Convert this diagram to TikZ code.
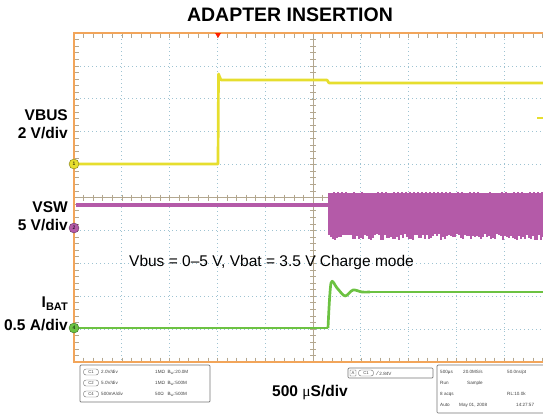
\documentclass[tikz,border=0pt]{standalone}
\usepackage{fontspec}
\setmainfont{Liberation Sans}
\newfontfamily\greekfont{Liberation Serif}
\definecolor{scopeorange}{HTML}{F2A55A}
\definecolor{vbusyellow}{HTML}{E6DE2E}
\definecolor{vswpurple}{HTML}{B45AA8}
\definecolor{ibatgreen}{HTML}{6CC242}
\definecolor{griddot}{HTML}{9EC3D2}
\definecolor{axisgray}{HTML}{B3A78F}
\begin{document}
\begin{tikzpicture}[x=1pt,y=-1pt,
     lbl/.style={font=\bfseries\fontsize{15.5}{16}\selectfont,anchor=east,inner sep=0pt},
     trace/.style={line width=2.7pt,line join=round},
     chmark/.style={circle,draw=#1!55!black,fill=#1,minimum size=10pt,inner sep=0pt,font=\fontsize{5}{5}\selectfont},
     info/.style={font=\fontsize{4.6}{5}\selectfont,anchor=west,inner sep=0pt,text=black!75},
     chip/.style={draw=black!60,rounded corners=2.5pt,minimum width=15pt,minimum height=6pt,inner sep=0.5pt,font=\fontsize{4.2}{4}\selectfont,text=black!75},
     panel/.style={draw=black!55,line width=0.7pt,rounded corners=1pt}]
     		\newcommand{\ibatring}
     		{(328,328)(331,283)(337,288)(345,296)(353,290)(362,292)(370,292)}
     		\pgfmathsetseed{7}
     		\useasboundingbox (0,0) rectangle (543,416);
     		\begin{scope}
     		\clip (0,0) rectangle (543,416);
     		% dotted grid
     		\foreach \i in {1,...,9} \draw[griddot,dash pattern=on 0.7pt off 3.3pt,line width=0.7pt] (74+47.8*\i,35) -- (74+47.8*\i,360);
     		\foreach \j in {1,...,9} \draw[griddot,dash pattern=on 0.7pt off 3.3pt,line width=0.7pt] (76,33+32.9*\j) -- (560,33+32.9*\j);
     		% centre axes with ticks
     		\draw[axisgray,line width=0.8pt] (313,33) -- (313,362);
     		\draw[axisgray,line width=0.8pt] (74,197.5) -- (560,197.5);
     		\foreach \k in {1,...,49} \draw[axisgray,line width=0.6pt] (310,33+6.58*\k) -- (316,33+6.58*\k);
     		\foreach \k in {1,...,51} \draw[axisgray,line width=0.6pt] (74+9.56*\k,194.5) -- (74+9.56*\k,200.5);
     		% frame ticks
     		\foreach \k in {1,...,49} \draw[axisgray,line width=0.6pt] (74,33+6.58*\k) -- (78.5,33+6.58*\k);
     		\foreach \k in {1,...,51} \draw[axisgray,line width=0.6pt] (74+9.56*\k,33) -- (74+9.56*\k,37.5);
     		\foreach \k in {1,...,51} \draw[axisgray,line width=0.6pt] (74+9.56*\k,357.5) -- (74+9.56*\k,362);
     		\draw[scopeorange,line width=1.8pt] (560,33) -- (74,33) -- (74,362) -- (560,362);
     		% VBUS
     		\draw[trace,vbusyellow] (76,164) -- (218,164) -- (218.5,74) -- (221,80) -- (327,80) -- (329,83) -- (545,83);
     		% VSW
     		\draw[trace,vswpurple,line width=3.4pt] (76,205) -- (328,205);
     		\fill[vswpurple] (328,193) rectangle (545,233);
     		\foreach \x in {329,331,...,543} \draw[vswpurple,line width=1.3pt] (\x,232) -- (\x,{234+6*rnd});
     		\foreach \x in {330,334,...,543} \draw[vswpurple,line width=1.1pt] (\x,194) -- (\x,{193-1.5*rnd});
     		% IBAT
     		\draw[trace,ibatgreen] (76,328) -- (328,328);
     		\draw[trace,ibatgreen] plot[smooth,tension=0.5] coordinates {\ibatring};
     		\draw[trace,ibatgreen] (370,292) -- (545,292);
     		% markers
     		\fill[red!75!orange] (215,33) -- (221,33) -- (218,38) -- cycle;
     		\draw[vbusyellow,line width=1.6pt] (537,118) -- (545,118);
     		\end{scope}
     		\node[chmark=vbusyellow] (m1) at (74,164) {1};
     		\node[chmark=vswpurple] (m2) at (74,228) {2};
     		\node[chmark=ibatgreen] (m4) at (74,328) {4};
     		% labels
     		\node[font=\bfseries\fontsize{19.5}{20}\selectfont] (title) at (290,15) {ADAPTER INSERTION};
     		\node[lbl] (vbus) at (68,115) {VBUS};
     		\node[lbl] (vbusdiv) at (68,133) {2 V/div};
     		\node[lbl] (vsw) at (68,207) {VSW};
     		\node[lbl] (vswdiv) at (68,225) {5 V/div};
     		\node[lbl] (ibat) at (68,304) {I\raisebox{-0.35ex}{\fontsize{11}{11}\selectfont BAT}};
     		\node[lbl] (ibatdiv) at (68,325) {0.5 A/div};
     		\node[font=\fontsize{15.5}{16}\selectfont] (cond) at (271.5,262) {Vbus = 0–5 V, Vbat = 3.5 V Charge mode};
     		\node[font=\bfseries\fontsize{15.5}{16}\selectfont] (tdiv) at (310,393) {500 {\greekfont\mdseries μ}S/div};
     		% readout panels
     		\draw[panel] (80,365) rectangle (210,402);
     		\node[chip] (c1) at (91,372) {C1};
     		\node[chip] (c2) at (91,383) {C2};
     		\node[chip] (c4) at (91,394) {C4};
     		\node[info] at (101,372) {2.0V/div};
     		\node[info] at (101,383) {5.0V/div};
     		\node[info] at (101,394) {500mA/div};
     		\node[info] at (155,372) {1MΩ\ \ B\textsubscript{W}:20.0M};
     		\node[info] at (155,383) {1MΩ\ \ B\textsubscript{W}:500M};
     		\node[info] at (155,394) {50Ω\ \ \ B\textsubscript{W}:500M};
     		\draw[panel] (348,368) rectangle (433,378);
     		\node[chip,minimum width=6pt,rounded corners=0.5pt] (trigA) at (353,373) {A};
     		\node[chip] (trigc1) at (366,373) {C1};
     		\node[info] at (377,373) {\fontsize{6}{6}\selectfont ⁄\fontsize{4.6}{5}\selectfont\ 2.84V};
     		\draw[panel] (437,365) rectangle (560,413);
     		\node[info] at (440,372) {500µs};
     		\node[info] at (463,372) {20.0MS/s};
     		\node[info] at (507,372) {50.0ns/pt};
     		\node[info] at (440,383) {Run};
     		\node[info] at (467,383) {Sample};
     		\node[info] at (440,394) {8 acqs};
     		\node[info] at (507,394) {RL:10.0k};
     		\node[info] at (440,405) {Auto};
     		\node[info] at (459,405) {May 01, 2008};
     		\node[info] at (516,405) {14:27:57};
		\end{tikzpicture}
\end{document}
